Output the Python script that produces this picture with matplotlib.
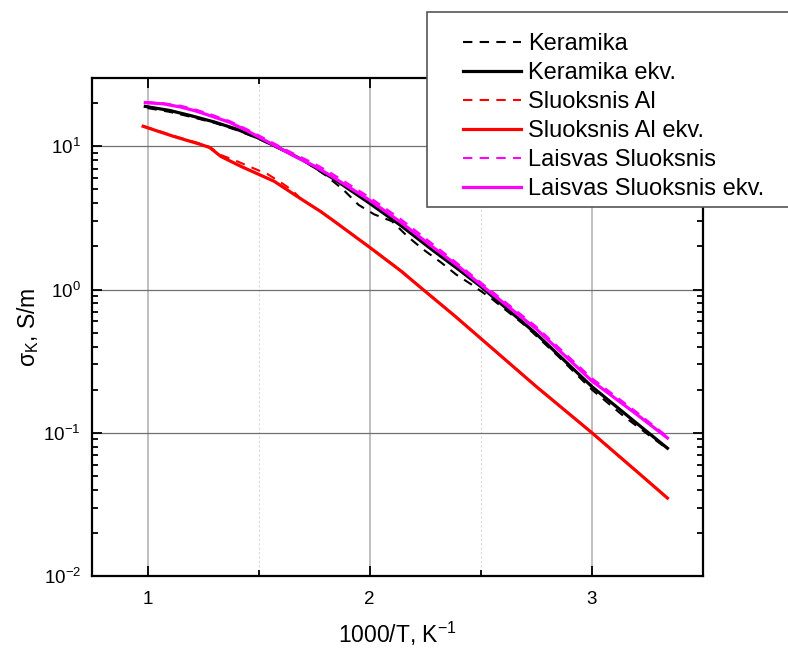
import numpy as np
import matplotlib
matplotlib.use('agg')
import matplotlib.pyplot as plt
from matplotlib import patches
from matplotlib.ticker import LogLocator, NullFormatter

plt.rcParams['font.family'] = ['Liberation Sans', 'DejaVu Sans']
plt.rcParams['mathtext.fontset'] = 'custom'
plt.rcParams['mathtext.rm'] = 'Liberation Sans'
plt.rcParams['mathtext.it'] = 'Liberation Sans:italic'

# values (x = 1000/T, y = sigma in S/m)
x_ker = [1.0, 1.1, 1.2, 1.3, 1.4, 1.5, 1.6, 1.7, 1.8, 1.88, 1.95, 2.02, 2.1,
         2.17, 2.24, 2.32, 2.39, 2.46, 2.55, 2.7, 2.85, 3.0, 3.15, 3.34]
y_ker = [18.5, 17.4, 16.0, 14.6, 13.0, 11.3, 9.5, 8.0, 6.3, 5.0, 3.9, 3.35, 3.0,
         2.35, 1.91, 1.55, 1.27, 1.08, 0.86, 0.56, 0.34, 0.2, 0.128, 0.077]

x_ker_ekv = [0.99, 1.1, 1.2, 1.3, 1.4, 1.5, 1.6, 1.7, 1.84, 2.0, 2.14, 2.28,
             2.4, 2.5, 2.75, 3.0, 3.2, 3.34]
y_ker_ekv = [19.0, 17.8, 16.3, 14.8, 13.2, 11.4, 9.6, 8.0, 5.9, 4.0, 2.8, 1.9,
             1.38, 1.05, 0.49, 0.21, 0.117, 0.078]

x_al = [0.98, 1.12, 1.24, 1.28, 1.33, 1.4, 1.47, 1.54, 1.6, 1.65, 1.69, 1.78,
        1.84, 2.0, 2.14, 2.24, 2.38, 2.55, 2.75, 3.0, 3.2, 3.34]
y_al = [13.9, 11.8, 10.4, 9.9, 8.7, 7.9, 7.1, 6.4, 5.6, 4.95, 4.3, 3.5,
        3.0, 1.98, 1.36, 1.0, 0.66, 0.39, 0.21, 0.1, 0.054, 0.035]

x_al_ekv = [0.98, 1.12, 1.24, 1.28, 1.33, 1.42, 1.57, 1.69, 1.78, 1.84,
            2.0, 2.14, 2.24, 2.38, 2.55, 2.75, 3.0, 3.2, 3.34]
y_al_ekv = [13.8, 11.7, 10.3, 9.8, 8.5, 7.25, 5.7, 4.3, 3.5, 3.0,
            1.97, 1.35, 1.0, 0.66, 0.39, 0.21, 0.1, 0.054, 0.035]

x_ls = [0.99, 1.07, 1.15, 1.22, 1.29, 1.37, 1.45, 1.52, 1.6, 1.67, 1.75, 1.82,
        2.0, 2.14, 2.28, 2.4, 2.5, 2.75, 3.0, 3.2, 3.34]
y_ls = [20.4, 20.0, 19.2, 18.0, 16.6, 15.0, 13.1, 11.5, 9.9, 8.7, 7.6, 6.6,
        4.4, 3.1, 2.1, 1.5, 1.12, 0.55, 0.24, 0.14, 0.094]

x_ls_ekv = [0.99, 1.07, 1.15, 1.22, 1.29, 1.37, 1.45, 1.52, 1.6, 1.67, 1.75,
            1.82, 2.0, 2.14, 2.28, 2.4, 2.5, 2.75, 3.0, 3.2, 3.34]
y_ls_ekv = [20.2, 19.8, 18.8, 17.6, 16.2, 14.7, 12.8, 11.2, 9.6, 8.4, 7.3,
            6.3, 4.2, 2.95, 2.0, 1.45, 1.08, 0.53, 0.23, 0.135, 0.092]

labels = ['Keramika', 'Keramika ekv.', 'Sluoksnis Al', 'Sluoksnis Al ekv.',
          'Laisvas Sluoksnis', 'Laisvas Sluoksnis ekv.']

fig = plt.figure(figsize=(7.88, 6.51), dpi=100)
ax = fig.add_axes([92 / 788, 75 / 651, 611 / 788, 498 / 651])

dash = (0, (4.5, 3.5))
series = [
    (x_ker, y_ker, 'black', dash, 1.5),
    (x_ker_ekv, y_ker_ekv, 'black', '-', 2.3),
    (x_al, y_al, '#ff0000', dash, 1.5),
    (x_al_ekv, y_al_ekv, '#ff0000', '-', 2.3),
    (x_ls, y_ls, '#ff00ff', dash, 1.5),
    (x_ls_ekv, y_ls_ekv, '#ff00ff', '-', 2.3),
]
handles = []
for (x, y, c, ls, lw), lab in zip(series, labels):
    h, = ax.plot(x, y, color=c, linestyle=ls, lw=lw, label=lab, zorder=3)
    handles.append(h)

ax.set_yscale('log')
ax.set_xlim(0.75, 3.5)
ax.set_ylim(1e-2, 30)
ax.set_xticks([1, 2, 3])
ax.set_xticks([1.5, 2.5], minor=True)
ax.yaxis.set_major_locator(LogLocator(base=10, numticks=10))
ax.yaxis.set_minor_locator(LogLocator(base=10, subs=np.arange(2, 10), numticks=10))
ax.yaxis.set_minor_formatter(NullFormatter())

ax.grid(True, which='major', axis='x', color='#b4b4b4', lw=1.2)
ax.grid(True, which='minor', axis='x', color='#d8d8d8', lw=0.8, linestyle=(0, (2, 2)))
ax.grid(True, which='major', axis='y', color='#707070', lw=0.9)

ax.tick_params(which='both', direction='in', top=True, right=True,
               width=1.3, labelsize=13.5)
ax.tick_params(which='major', length=7)
ax.tick_params(which='minor', length=4)
ax.tick_params(axis='x', pad=11)
ax.tick_params(axis='y', pad=8)
for s in ax.spines.values():
    s.set_linewidth(1.6)

ax.set_xlabel('1000/T, K$^{-1}$', fontsize=16.5, labelpad=8)
ax.set_ylabel('σ$_\\mathrm{K}$, S/m', fontsize=16.5, labelpad=2)

box = patches.Rectangle((427 / 788, 1 - 207 / 651), 0.6, 195 / 651,
                        transform=fig.transFigure, facecolor='white',
                        edgecolor='#555555', lw=1.2, zorder=4)
fig.patches.append(box)

fig.legend(handles=handles, loc='upper left',
           bbox_to_anchor=(463 / 788, 1 - 33 / 651), frameon=False,
           fontsize=17, handlelength=2.45, handletextpad=0.3,
           labelspacing=0.3, borderpad=0, borderaxespad=0).set_zorder(5)

fig.savefig('out.png', dpi=100)
